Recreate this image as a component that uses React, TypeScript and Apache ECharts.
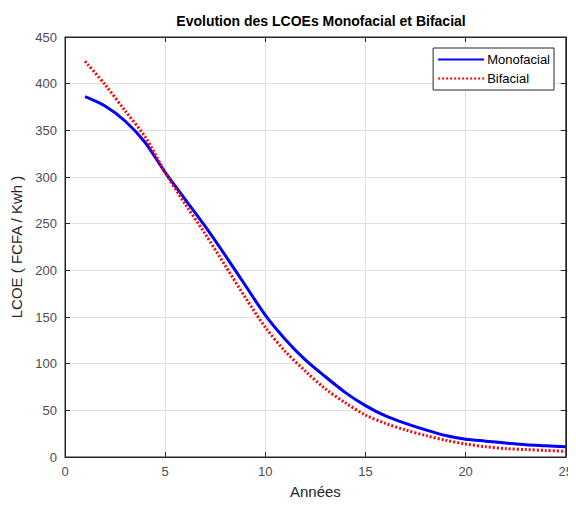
import React, { useEffect, useRef } from "react";
import * as echarts from "echarts";

const years = [1, 2, 3, 4, 5, 6, 7, 8, 9, 10, 11, 12, 13, 14, 15, 16, 17, 18, 19, 20, 21, 22, 23, 24, 25];
const monofacial = [386, 376, 360, 337, 305, 276, 247, 216, 184, 152, 126, 104, 86, 69, 55, 44, 36, 29, 23, 19, 17, 15, 13, 12, 11];
const bifacial = [424, 399, 371, 343, 305, 271, 239, 205, 171, 139, 113, 92, 73, 58, 45, 36, 29, 23, 18, 14, 11, 9, 8, 7, 6];

const FONT = "Liberation Sans, Arial, sans-serif";

export default function App() {
  const ref = useRef<HTMLDivElement>(null);
  useEffect(() => {
    const chart = echarts.init(ref.current!, null, { renderer: "svg" });
    const mkLine = () => ({ show: true, onZero: false, lineStyle: { color: "#262626", width: 1 } });
    const mkTick = () => ({ show: true, inside: true, length: 5, lineStyle: { color: "#262626" } });
    const mkSplit = () => ({ show: true, showMinLine: false, showMaxLine: false, lineStyle: { color: "#dfdfdf", width: 1 } });
    chart.setOption({
      animation: false,
      backgroundColor: "#fff",
      title: {
        text: "Evolution des LCOEs Monofacial et Bifacial",
        left: 316,
        textAlign: "center",
        top: 9,
        textStyle: { fontFamily: FONT, fontSize: 14, fontWeight: "bold", color: "#000" },
      },
      legend: {
        orient: "vertical",
        right: 22,
        top: 48,
        itemWidth: 46,
        itemHeight: 10,
        itemGap: 6,
        borderColor: "#262626",
        borderWidth: 1,
        padding: [5, 4, 5, 4],
        backgroundColor: "#fff",
        itemStyle: { opacity: 0 },
        textStyle: { fontFamily: FONT, fontSize: 13, color: "#000", padding: [0, 0, 0, -2] },
        data: ["Monofacial", "Bifacial"],
      },
      grid: { left: 65, right: 9, top: 37, bottom: 51 },
      xAxis: [
        {
          type: "value",
          min: 0,
          max: 25,
          interval: 5,
          name: "Années",
          nameLocation: "middle",
          nameGap: 27,
          nameTextStyle: { fontFamily: FONT, fontSize: 15, color: "#262626" },
          axisLine: mkLine(),
          axisTick: mkTick(),
          axisLabel: { fontFamily: FONT, fontSize: 13, color: "#4d4d4d", margin: 8 },
          splitLine: mkSplit(),
        },
        {
          type: "value",
          position: "top",
          min: 0,
          max: 25,
          interval: 5,
          axisLine: mkLine(),
          axisTick: mkTick(),
          axisLabel: { show: false },
          splitLine: { show: false },
        },
      ],
      yAxis: [
        {
          type: "value",
          min: 0,
          max: 450,
          interval: 50,
          name: "LCOE ( FCFA / Kwh )",
          nameLocation: "middle",
          nameGap: 40,
          nameTextStyle: { fontFamily: FONT, fontSize: 15, color: "#262626" },
          axisLine: mkLine(),
          axisTick: mkTick(),
          axisLabel: { fontFamily: FONT, fontSize: 13, color: "#4d4d4d", margin: 8 },
          splitLine: mkSplit(),
        },
        {
          type: "value",
          position: "right",
          min: 0,
          max: 450,
          interval: 50,
          axisLine: mkLine(),
          axisTick: mkTick(),
          axisLabel: { show: false },
          splitLine: { show: false },
        },
      ],
      series: [
        {
          name: "Monofacial",
          type: "line",
          data: years.map((y, i) => [y, monofacial[i]]),
          symbol: "none",
          smooth: 0.3,
          z: 3,
          lineStyle: { color: "#0000ff", width: 3 },
          itemStyle: { color: "#0000ff" },
        },
        {
          name: "Bifacial",
          type: "line",
          xAxisIndex: 1,
          yAxisIndex: 1,
          data: years.map((y, i) => [y, bifacial[i]]),
          symbol: "none",
          smooth: 0.3,
          z: 4,
          lineStyle: { color: "#ff0000", width: 3, type: [2, 2] },
          itemStyle: { color: "#ff0000" },
        },
      ],
    });
    const p0 = chart.convertToPixel({ gridIndex: 0 }, [0, 0]) as number[];
    const p1 = chart.convertToPixel({ gridIndex: 0 }, [25, 450]) as number[];
    chart.setOption({
      graphic: [
        {
          type: "rect",
          z: 1,
          silent: true,
          shape: { x: p0[0], y: p1[1], width: p1[0] - p0[0], height: p0[1] - p1[1] },
          style: { fill: "none", stroke: "#262626", lineWidth: 1 },
        },
      ],
    });
    return () => chart.dispose();
  }, []);
  return <div ref={ref} style={{ width: 576, height: 508, margin: -8 }} />;
}
